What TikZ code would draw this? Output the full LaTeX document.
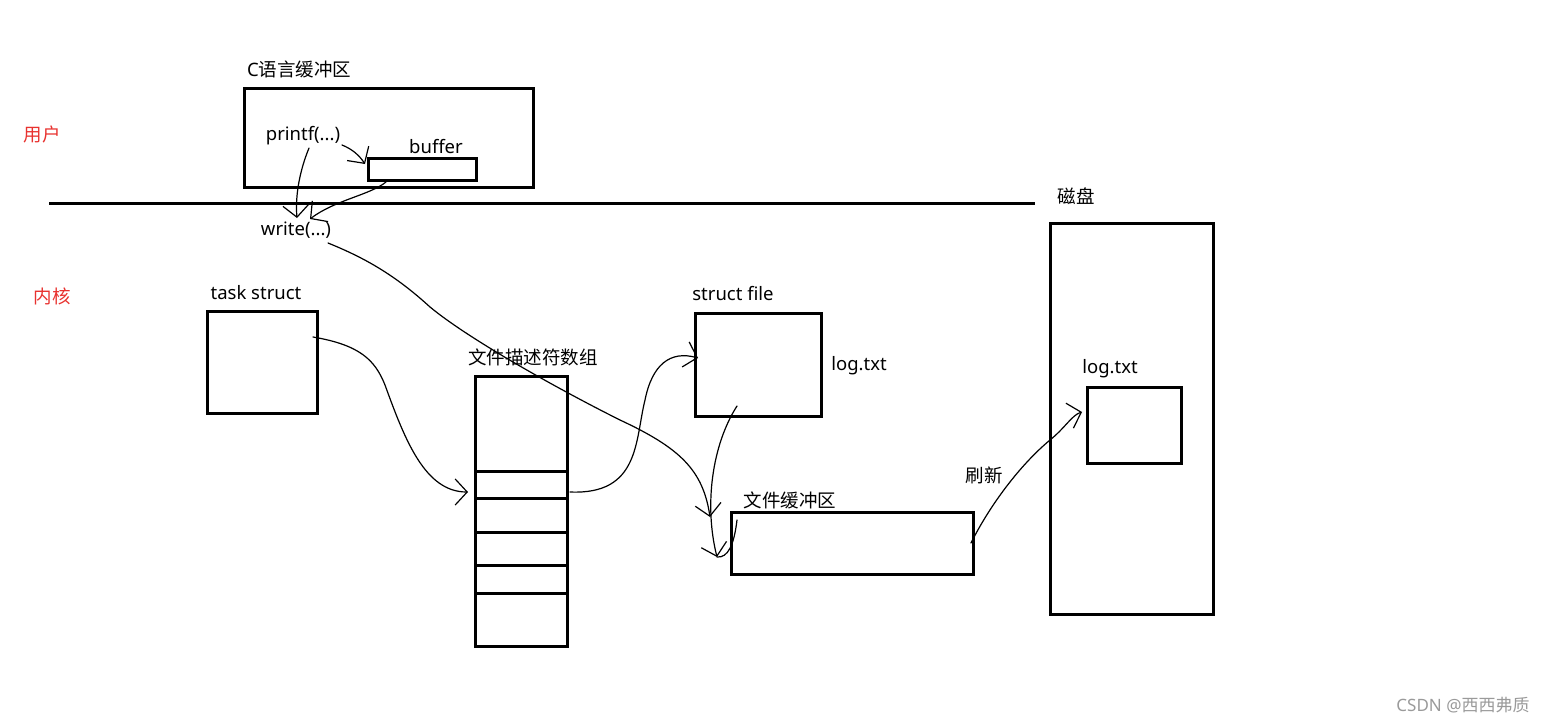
\documentclass[tikz,border=0pt]{standalone}
\usepackage{fontspec}
\setmainfont{Noto Sans}
\newfontfamily\cjk{Noto Sans CJK SC}
\usetikzlibrary{arrows.meta}
\definecolor{userred}{HTML}{E8322F}
\definecolor{markgray}{HTML}{9A9A9A}
\tikzset{
  box/.style={draw, line width=3pt, inner sep=0pt, outer sep=0pt},
  lbl/.style={font=\fontsize{18.5}{20}\selectfont, inner sep=0pt},
  redlbl/.style={lbl, text=userred},
  wire/.style={line width=1.2pt, line cap=round, line join=round},
  arw/.style={wire, -{Straight Barb[length=12pt,width=26pt,line width=1.2pt]}},
}
\begin{document}
\begin{tikzpicture}[x=1pt,y=-1pt]
\useasboundingbox (0,0) rectangle (1547,723);
% boxes
\node[box, minimum width=289, minimum height=99] (cbuf) at (388.5,137.5) {};
\node[box, minimum width=108, minimum height=22] (bufbox) at (422,169) {};
\node[box, minimum width=110, minimum height=102] (task) at (262,362) {};
\node[box, minimum width=92, minimum height=270] (arr) at (521,511) {};
\node[box, minimum width=126, minimum height=103] (sfile) at (758,364.5) {};
\node[box, minimum width=242, minimum height=62] (fbuf) at (852,543) {};
\node[box, minimum width=163, minimum height=391] (disk) at (1131.5,418.5) {};
\node[box, minimum width=94, minimum height=76] (dlog) at (1134,425) {};
% array cells
\foreach \yy in {471,498,532,565,593}
  \draw[line width=3pt] (arr.west |- 0,\yy) -- (arr.east |- 0,\yy);
% user/kernel line
\coordinate (lineL) at (49,203);
\coordinate (lineR) at (1035,203);
\draw[line width=3pt] (lineL) -- (lineR);
% labels
\node[lbl, anchor=west] (cbuflbl) at (247,69) {C{\cjk 语言缓冲区}};
\node[lbl] (buflbl) at (436,147) {buffer};
\node[lbl] (printf) at (303,136) {printf(...)};
\node[lbl] (write) at (296,230) {write(...)};
\node[redlbl] (user) at (42,134) {\cjk 用户};
\node[redlbl] (kernel) at (52,296) {\cjk 内核};
\node[lbl] (disklbl) at (1076,196) {\cjk 磁盘};
\node[lbl] (tasklbl) at (256,293) {task struct};
\node[lbl] (arrlbl) at (533,357) {\cjk 文件描述符数组};
\node[lbl] (sfilelbl) at (733,294) {struct file};
\node[lbl] (sfilelog) at (859,366) {log.txt};
\node[lbl] (fbuflbl) at (790,500) {\cjk 文件缓冲区};
\node[lbl] (flush) at (984,475) {\cjk 刷新};
\node[lbl] (dloglbl) at (1110,369) {log.txt};
\node[font=\fontsize{17}{18}\selectfont, text=markgray, inner sep=0pt] (mark) at (1463,705) {CSDN @{\cjk 西西弗质}};
% connectors
\coordinate (c1s) at (342,145);
\coordinate (c1e) at (365,164);
\draw[arw] (c1s) .. controls (352,149) and (359,155) .. (c1e);
\coordinate (c2s) at (309,148);
\coordinate (c2e) at (297,218);
\draw[arw] (c2s) .. controls (300,170) and (295,195) .. (c2e);
\coordinate (c3s) at (386,182);
\coordinate (c3e) at (310,219);
\draw[arw] (c3s) .. controls (370,195) and (335,200) .. (c3e);
\coordinate (c4s) at (328,243);
\coordinate (c4e) at (710,517);
\draw[arw] (c4s) .. controls (365,258) and (395,275) .. (430,307)
  .. controls (470,340) and (560,390) .. (620,420)
  .. controls (680,448) and (703,470) .. (c4e);
\coordinate (c5s) at (313,337);
\coordinate (c5e) at (468,492);
\draw[arw] (c5s) .. controls (360,345) and (375,360) .. (385,385)
  .. controls (405,440) and (425,492) .. (c5e);
\coordinate (c6s) at (570,492);
\coordinate (c6e) at (698,358);
\draw[arw] (c6s) .. controls (640,495) and (635,440) .. (645,400)
  .. controls (652,365) and (670,350) .. (c6e);
\coordinate (c7s) at (737,406);
\coordinate (c7e) at (717,557);
\coordinate (c7h) at (737,520);
\draw[arw] (c7s) .. controls (712,445) and (704,505) .. (c7e);
\draw[wire] (c7e) .. controls (728,558) and (734,545) .. (c7h);
\coordinate (c8s) at (971,543);
\coordinate (c8e) at (1082,412);
\draw[arw] (c8s) .. controls (990,505) and (1020,465) .. (1050,440)
  .. controls (1065,428) and (1072,415) .. (c8e);
\end{tikzpicture}
\end{document}
